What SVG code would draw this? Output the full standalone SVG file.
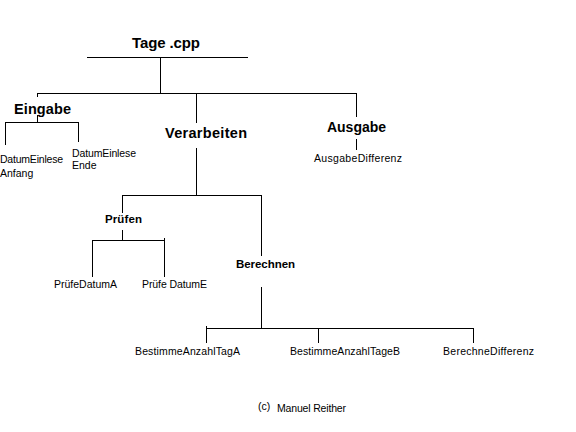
<svg xmlns="http://www.w3.org/2000/svg" width="576" height="432" viewBox="0 0 576 432">
<style>
.b{font-family:"Liberation Sans",Arial,sans-serif;font-weight:bold;fill:#000}
.r{font-family:"Liberation Sans",Arial,sans-serif;font-size:10.5px;fill:#000}
.c line{stroke:#000;stroke-width:1;shape-rendering:crispEdges}
</style>
<rect width="576" height="432" fill="#fff"/>
<g class="c" id="connectors">
<line x1="87" y1="57.5" x2="248" y2="57.5"/>
<line x1="160.5" y1="57" x2="160.5" y2="93"/>
<line x1="37" y1="93.5" x2="357" y2="93.5"/>
<line x1="37.5" y1="93" x2="37.5" y2="97"/>
<line x1="356.5" y1="93" x2="356.5" y2="117"/>
<line x1="196.5" y1="93" x2="196.5" y2="123"/>
<line x1="37.5" y1="115" x2="37.5" y2="122"/>
<line x1="5" y1="122.5" x2="79" y2="122.5"/>
<line x1="5.5" y1="122" x2="5.5" y2="145"/>
<line x1="78.5" y1="122" x2="78.5" y2="142"/>
<line x1="356.5" y1="139" x2="356.5" y2="150"/>
<line x1="196.5" y1="148" x2="196.5" y2="195"/>
<line x1="122" y1="195.5" x2="262" y2="195.5"/>
<line x1="122.5" y1="195" x2="122.5" y2="213"/>
<line x1="261.5" y1="195" x2="261.5" y2="256"/>
<line x1="122.5" y1="230" x2="122.5" y2="240"/>
<line x1="92" y1="240.5" x2="165" y2="240.5"/>
<line x1="92.5" y1="240" x2="92.5" y2="277"/>
<line x1="164.5" y1="238" x2="164.5" y2="277"/>
<line x1="261.5" y1="287" x2="261.5" y2="329"/>
<line x1="206" y1="328.5" x2="474" y2="328.5"/>
<line x1="206.5" y1="326" x2="206.5" y2="343"/>
<line x1="318.5" y1="328" x2="318.5" y2="343"/>
<line x1="473.5" y1="328" x2="473.5" y2="343"/>
</g>
<g id="tage"><text class="b" x="132" y="48" font-size="15" textLength="68">Tage .cpp</text></g>
<g id="eingabe"><text class="b" x="14" y="114" font-size="14.5" textLength="57">Eingabe</text></g>
<g id="verarbeiten"><text class="b" x="165" y="138" font-size="14.5" textLength="82">Verarbeiten</text></g>
<g id="ausgabe"><text class="b" x="327" y="132" font-size="14" textLength="59">Ausgabe</text></g>
<g id="datumeinleseanfang"><text class="r" x="0" y="163" textLength="63">DatumEinlese</text><text class="r" x="0" y="177">Anfang</text></g>
<g id="datumeinleseende"><text class="r" x="72" y="157" textLength="64">DatumEinlese</text><text class="r" x="72" y="169">Ende</text></g>
<g id="ausgabedifferenz"><text class="r" x="314" y="162" textLength="88">AusgabeDifferenz</text></g>
<g id="pruefen"><text class="b" x="105" y="223" font-size="11.5" textLength="37">Prüfen</text></g>
<g id="berechnen"><text class="b" x="236" y="268" font-size="11.5" textLength="59">Berechnen</text></g>
<g id="pruefedatuma"><text class="r" x="54" y="288" textLength="63">PrüfeDatumA</text></g>
<g id="pruefedatume"><text class="r" x="142" y="288" textLength="65">Prüfe DatumE</text></g>
<g id="bestimmea"><text class="r" x="135" y="355" textLength="105">BestimmeAnzahlTagA</text></g>
<g id="bestimmeb"><text class="r" x="290" y="355" textLength="110">BestimmeAnzahlTageB</text></g>
<g id="berechnedifferenz"><text class="r" x="443" y="355" textLength="91">BerechneDifferenz</text></g>
<g id="copyright"><text class="r" x="258" y="410" font-size="10">(c)</text><text class="r" x="277" y="412" textLength="69">Manuel Reither</text></g>
</svg>
